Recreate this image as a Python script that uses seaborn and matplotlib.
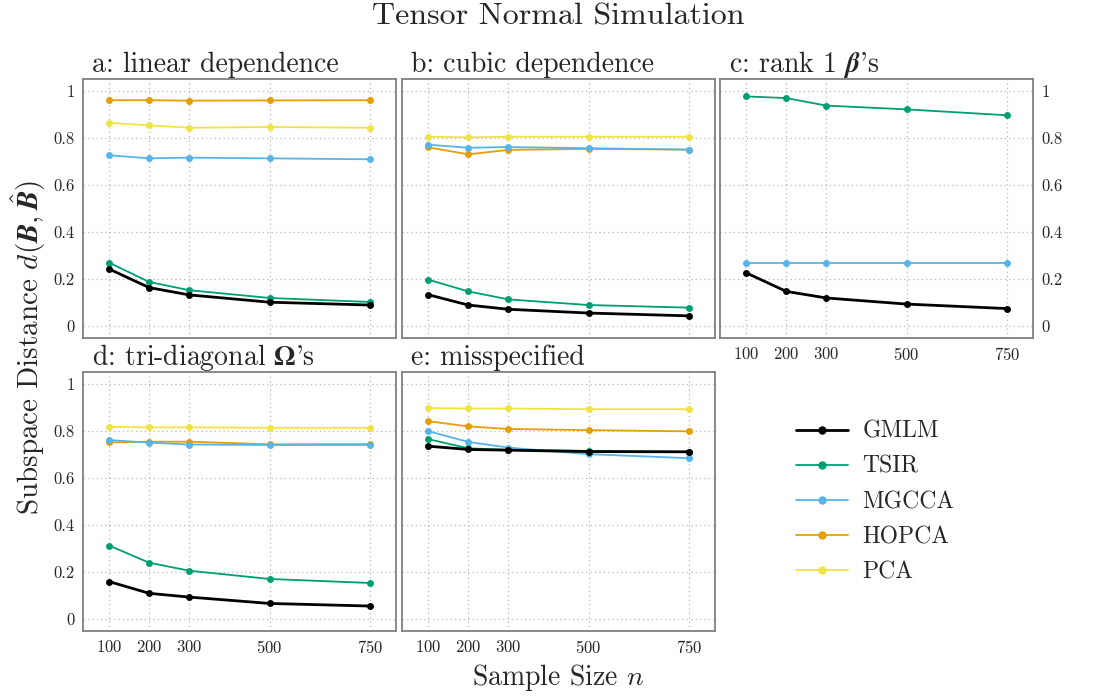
import numpy as np
import pandas as pd
import matplotlib
matplotlib.use("Agg")
import matplotlib.pyplot as plt
from matplotlib.lines import Line2D
import seaborn as sns

sample_sizes = [100, 200, 300, 500, 750]
methods = ["GMLM", "TSIR", "MGCCA", "HOPCA", "PCA"]
colors = ["#000000", "#009E73", "#56B4E9", "#E69F00", "#F0E442"]

panel_titles = [
    "a: linear dependence",
    "b: cubic dependence",
    r"c: rank 1 $\boldsymbol{\beta}$'s",
    r"d: tri-diagonal $\mathbf{\Omega}$'s",
    "e: misspecified",
]

# subspace distances, one list per method and panel
linear = {
    "GMLM":  [0.243, 0.164, 0.133, 0.102, 0.090],
    "TSIR":  [0.270, 0.188, 0.153, 0.120, 0.103],
    "MGCCA": [0.726, 0.713, 0.716, 0.713, 0.709],
    "HOPCA": [0.960, 0.960, 0.958, 0.959, 0.960],
    "PCA":   [0.864, 0.853, 0.843, 0.846, 0.843],
}
cubic = {
    "GMLM":  [0.134, 0.090, 0.072, 0.056, 0.044],
    "TSIR":  [0.198, 0.148, 0.114, 0.090, 0.079],
    "MGCCA": [0.771, 0.758, 0.761, 0.756, 0.750],
    "HOPCA": [0.760, 0.730, 0.749, 0.753, 0.750],
    "PCA":   [0.805, 0.802, 0.805, 0.805, 0.805],
}
rank1 = {
    "GMLM":  [0.227, 0.148, 0.120, 0.094, 0.075],
    "TSIR":  [0.976, 0.969, 0.937, 0.921, 0.896],
    "MGCCA": [0.270, 0.270, 0.270, 0.270, 0.270],
}
tridiag = {
    "GMLM":  [0.160, 0.110, 0.094, 0.067, 0.056],
    "TSIR":  [0.313, 0.240, 0.206, 0.171, 0.154],
    "MGCCA": [0.761, 0.750, 0.742, 0.740, 0.740],
    "HOPCA": [0.751, 0.754, 0.754, 0.743, 0.744],
    "PCA":   [0.817, 0.815, 0.815, 0.813, 0.813],
}
misspec = {
    "GMLM":  [0.735, 0.721, 0.718, 0.712, 0.711],
    "TSIR":  [0.765, 0.726, 0.719, 0.715, 0.711],
    "MGCCA": [0.799, 0.753, 0.729, 0.701, 0.684],
    "HOPCA": [0.841, 0.819, 0.808, 0.803, 0.798],
    "PCA":   [0.897, 0.895, 0.895, 0.892, 0.892],
}
panels = [linear, cubic, rank1, tridiag, misspec]

rows = []
for p, d in enumerate(panels):
    for m, vals in d.items():
        for n, v in zip(sample_sizes, vals):
            rows.append({"panel": p, "method": m, "n": n, "dist": v})
df = pd.DataFrame(rows)

sns.set_style("white")
plt.rcParams["font.family"] = ["cmr10", "DejaVu Serif"]
plt.rcParams["mathtext.fontset"] = "cm"
plt.rcParams["axes.formatter.use_mathtext"] = True

palette = dict(zip(methods, colors))
widths = {m: (2.0 if m == "GMLM" else 1.3) for m in methods}

fig = plt.figure(figsize=(11.17, 6.96), dpi=100)
W, H = 1117, 696
boxes = [(83, 79, 396, 338), (402, 79, 715, 338), (720, 79, 1033, 338),
         (83, 372, 396, 631), (402, 372, 715, 631)]

for p, (x0, y0, x1, y1) in enumerate(boxes):
    ax = fig.add_axes([x0 / W, 1 - y1 / H, (x1 - x0) / W, (y1 - y0) / H])
    sub = df[df.panel == p]
    order = [m for m in methods if m in sub.method.unique()][::-1]
    sns.lineplot(data=sub, x="n", y="dist", hue="method", hue_order=order,
                 size="method", sizes=widths, palette=palette, marker="o",
                 markersize=5, markeredgewidth=0, legend=False, ax=ax)
    ax.set_xlim(35, 815)
    ax.set_ylim(-0.05, 1.05)
    ax.set_xticks(sample_sizes)
    ax.set_yticks([0, 0.2, 0.4, 0.6, 0.8, 1.0])
    ax.set_yticklabels(["0", "0.2", "0.4", "0.6", "0.8", "1"])
    ax.grid(True, linestyle=(0, (1, 2.5)), color="#b8b8b8", linewidth=0.9)
    ax.tick_params(length=0, labelsize=12, pad=6)
    for s in ax.spines.values():
        s.set_color("#808080")
        s.set_linewidth(1.3)
    ax.set_xlabel("")
    ax.set_ylabel("")
    # bold upright Greek is missing from the cm math fonts, stix has it
    mfam = "stix" if p == 3 else "cm"
    ax.set_title(panel_titles[p], loc="left", fontsize=20, pad=5, x=0.03,
                 math_fontfamily=mfam)
    if p not in (2, 3, 4):
        ax.set_xticklabels([])
    if p == 2:
        ax.yaxis.tick_right()
    elif p not in (0, 3):
        ax.set_yticklabels([])

fig.suptitle("Tensor Normal Simulation", fontsize=23, y=0.995)
fig.text(0.5, 0.005, "Sample Size $n$", ha="center", va="bottom", fontsize=20)
fig.text(0.008, 0.5, r"Subspace Distance $d(\boldsymbol{B}, \hat{\boldsymbol{B}})$",
         rotation=90, ha="left", va="center", fontsize=21)

handles = [Line2D([], [], color=c, lw=widths[m], marker="o", markersize=6,
                  markeredgewidth=0) for m, c in zip(methods, colors)]
fig.legend(handles, methods, loc="center left", bbox_to_anchor=(775 / W, 1 - 502 / H),
           frameon=False, fontsize=17, handlelength=2.2, labelspacing=0.55,
           handletextpad=0.6)

fig.savefig("out.png", dpi=100)
